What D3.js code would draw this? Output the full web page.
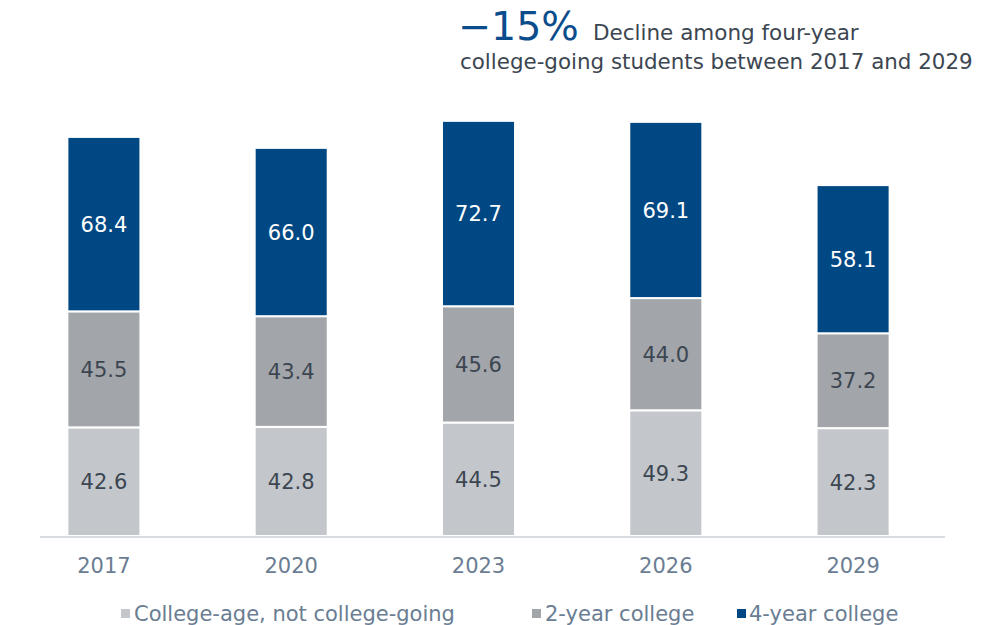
<!DOCTYPE html>
<html>
<head>
<meta charset="utf-8">
<script src="https://cdn.jsdelivr.net/npm/d3@7"></script>
<style>
  html, body { margin: 0; padding: 0; background: #fff; }
  svg { display: block; font-family: "DejaVu Sans", Verdana, sans-serif; }
</style>
</head>
<body>
<svg id="chart" width="993" height="625"></svg>
<script>
// Enrollment by year, in stacking order from the bottom
const years = ["2017", "2020", "2023", "2026", "2029"];
const notCollege = [42.6, 42.8, 44.5, 49.3, 42.3];
const twoYear = [45.5, 43.4, 45.6, 44.0, 37.2];
const fourYear = [68.4, 66.0, 72.7, 69.1, 58.1];
const seriesNames = ["College-age, not college-going", "2-year college", "4-year college"];
const seriesColors = ["#c3c7cb", "#a2a5a9", "#004883"];
const labelColors = ["#3c4651", "#3c4651", "#ffffff"];

const svg = d3.select("#chart");

const rows = years.map((y, i) => ({
  year: y,
  s0: notCollege[i],
  s1: twoYear[i],
  s2: fourYear[i]
}));
const stack = d3.stack().keys(["s0", "s1", "s2"]);
const layers = stack(rows);

const x = d3.scaleBand()
  .domain(years)
  .range([10.25, 946.75])
  .paddingInner(0.61)
  .paddingOuter(0.305);

const baseY = 536;
const y = d3.scaleLinear().domain([0, 170]).range([baseY, baseY - 170 * 2.55]);

// Stacked bar segments
const g = svg.append("g");
layers.forEach((layer, li) => {
  const lg = g.append("g");
  lg.selectAll("rect")
    .data(layer)
    .join("rect")
    .attr("x", d => x(d.data.year))
    .attr("y", d => y(d[1]))
    .attr("width", x.bandwidth())
    .attr("height", d => y(d[0]) - y(d[1]))
    .attr("fill", seriesColors[li])
    .attr("stroke", "#ffffff")
    .attr("stroke-width", 2);

  lg.selectAll("text")
    .data(layer)
    .join("text")
    .attr("x", d => x(d.data.year) + x.bandwidth() / 2)
    .attr("y", d => (y(d[0]) + y(d[1])) / 2)
    .attr("dy", "0.36em")
    .attr("text-anchor", "middle")
    .attr("font-size", 21)
    .attr("fill", labelColors[li])
    .text(d => (d[1] - d[0]).toFixed(1));
});

// Baseline
svg.append("line")
  .attr("x1", 40).attr("x2", 945)
  .attr("y1", baseY + 1).attr("y2", baseY + 1)
  .attr("stroke", "#d9dde1")
  .attr("stroke-width", 2);

// Category axis
const xAxis = svg.append("g")
  .attr("transform", `translate(0,${baseY})`)
  .call(d3.axisBottom(x).tickSize(0).tickPadding(22));
xAxis.select(".domain").remove();
xAxis.selectAll("text")
  .attr("font-size", 21)
  .attr("font-family", "DejaVu Sans, Verdana, sans-serif")
  .attr("fill", "#6a7d92")
  .attr("dy", "0.71em");

// Legend
const legendItems = [
  { sq: 121, tx: 134 },
  { sq: 532, tx: 545 },
  { sq: 737, tx: 749 }
];
const legend = svg.append("g");
seriesNames.forEach((name, i) => {
  legend.append("rect")
    .attr("x", legendItems[i].sq)
    .attr("y", 609)
    .attr("width", 9).attr("height", 9)
    .attr("fill", seriesColors[i]);
  legend.append("text")
    .attr("x", legendItems[i].tx)
    .attr("y", 613)
    .attr("dy", "0.36em")
    .attr("font-size", 21)
    .attr("fill", "#6a7d92")
    .text(name);
});

// Headline annotation
const head = svg.append("text").attr("x", 458).attr("y", 40);
head.append("tspan")
  .attr("font-size", 39.5)
  .attr("fill", "#0b4c8c")
  .text("\u221215%");
head.append("tspan")
  .attr("font-size", 21.5)
  .attr("fill", "#3c4651")
  .attr("dx", 14)
  .text("Decline among four-year");
svg.append("text")
  .attr("x", 460).attr("y", 69)
  .attr("font-size", 21.4)
  .attr("fill", "#3c4651")
  .text("college-going students between 2017 and 2029");
</script>
</body>
</html>
